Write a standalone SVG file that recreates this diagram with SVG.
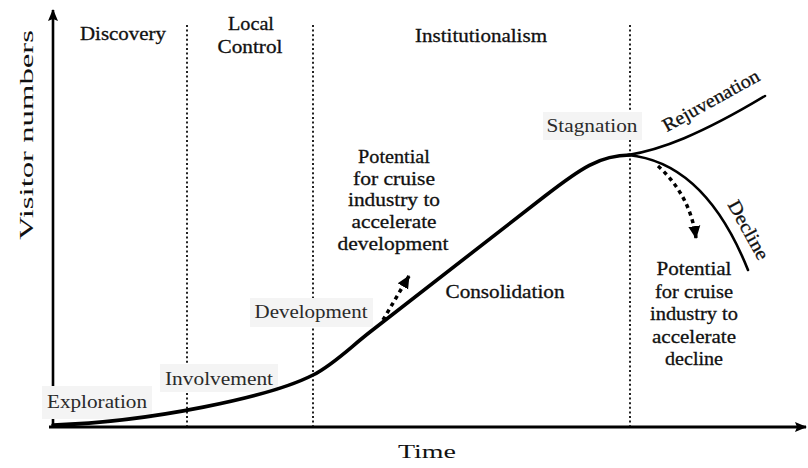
<svg xmlns="http://www.w3.org/2000/svg" width="808" height="468" viewBox="0 0 808 468" font-family="'Liberation Serif', 'Times New Roman', serif">
<style>
text{font-family:'Liberation Serif','Times New Roman',serif;font-size:19px;fill:#111}
.hv{stroke:#111;stroke-width:0.3}
.lt{fill:#2a2a2a}
.box{fill:#f4f4f4}
.div{stroke:#222;stroke-width:2;stroke-dasharray:2 2.6;fill:none}
.axis{stroke:#000;fill:none}
.crv{stroke:#000;fill:none;stroke-linecap:round}
.dash{stroke:#000;stroke-width:3.5;stroke-dasharray:4 4;fill:none}
</style>
<defs>
<marker id="ah" markerUnits="userSpaceOnUse" markerWidth="14" markerHeight="14" refX="12" refY="6" orient="auto" viewBox="0 0 14 12">
<path d="M0,0 L13,6 L0,12 Z" fill="#000"/>
</marker>
<marker id="axh" markerUnits="userSpaceOnUse" markerWidth="12" markerHeight="10" refX="11" refY="5" orient="auto" viewBox="0 0 12 10">
<path d="M0,0 L12,5 L0,10 L2,5 Z" fill="#000"/>
</marker>
</defs>
<rect width="808" height="468" fill="#fff"/>

<g id="phase-dividers">
<line class="div" x1="187" y1="25" x2="187" y2="426"/>
<line class="div" x1="313" y1="25" x2="313" y2="426"/>
<line class="div" x1="630" y1="25" x2="630" y2="426"/>
</g>

<g id="axes">
<line class="axis" x1="53" y1="428" x2="53" y2="10" stroke-width="2.6" marker-end="url(#axh)"/>
<line class="axis" x1="49" y1="427" x2="806" y2="427" stroke-width="3" marker-end="url(#axh)"/>
</g>

<g id="label-boxes">
<rect class="box" x="42" y="386" width="110" height="33"/>
<rect class="box" x="160" y="364" width="118" height="28"/>
<rect class="box" x="250" y="298" width="123" height="29"/>
<rect class="box" x="543" y="112" width="99" height="28"/>
</g>

<g id="connectors">
<path id="main-curve" class="crv" stroke-width="3.6" d="M53,425 C150,422 270,397 313,375 C333,365 350,347.5 370,332 L545,196 C580,168.8 600,155 630,155"/>
<path id="rejuvenation-curve" class="crv" stroke-width="2.6" d="M628,155 C660,150 700,135 765,96"/>
<path id="decline-curve" class="crv" stroke-width="2.6" d="M628,155 C680,160 720,200 748,270"/>
<path id="arrow-development" class="dash" d="M383,320 L409,276" marker-end="url(#ah)"/>
<path id="arrow-decline" class="dash" d="M658,166 Q690,195 696,238" marker-end="url(#ah)"/>
</g>

<g id="phase-labels">
<g id="discovery"><text class="hv" x="123" y="40" text-anchor="middle" textLength="86" lengthAdjust="spacingAndGlyphs">Discovery</text></g>
<g id="local-control">
<text class="hv" x="251" y="30" text-anchor="middle" textLength="46" lengthAdjust="spacingAndGlyphs">Local</text>
<text class="hv" x="250" y="53" text-anchor="middle" textLength="65" lengthAdjust="spacingAndGlyphs">Control</text>
</g>
<g id="institutionalism"><text class="hv" x="481" y="42" text-anchor="middle" textLength="132" lengthAdjust="spacingAndGlyphs">Institutionalism</text></g>
</g>

<g id="stage-labels">
<g id="exploration"><text class="lt" x="97" y="408" text-anchor="middle" textLength="100" lengthAdjust="spacingAndGlyphs">Exploration</text></g>
<g id="involvement"><text class="lt" x="219" y="385" text-anchor="middle" textLength="108" lengthAdjust="spacingAndGlyphs">Involvement</text></g>
<g id="development"><text class="lt" x="311" y="318" text-anchor="middle" textLength="113" lengthAdjust="spacingAndGlyphs">Development</text></g>
<g id="consolidation"><text class="hv" x="505" y="298" text-anchor="middle" textLength="119" lengthAdjust="spacingAndGlyphs">Consolidation</text></g>
<g id="stagnation"><text class="lt" x="592" y="132" text-anchor="middle" textLength="91" lengthAdjust="spacingAndGlyphs">Stagnation</text></g>
<g id="rejuvenation"><text class="hv" transform="translate(714,106) rotate(-29)" text-anchor="middle" textLength="108" lengthAdjust="spacingAndGlyphs">Rejuvenation</text></g>
<g id="decline"><text class="hv" transform="translate(743,233) rotate(61)" text-anchor="middle" textLength="65" lengthAdjust="spacingAndGlyphs">Decline</text></g>
</g>

<g id="note-development">
<text class="hv" x="394" y="163" text-anchor="middle" textLength="72" lengthAdjust="spacingAndGlyphs">Potential</text>
<text class="hv" x="394" y="185" text-anchor="middle" textLength="82" lengthAdjust="spacingAndGlyphs">for cruise</text>
<text class="hv" x="394" y="206" text-anchor="middle" textLength="92" lengthAdjust="spacingAndGlyphs">industry to</text>
<text class="hv" x="394" y="228" text-anchor="middle" textLength="85" lengthAdjust="spacingAndGlyphs">accelerate</text>
<text class="hv" x="393" y="250" text-anchor="middle" textLength="111" lengthAdjust="spacingAndGlyphs">development</text>
</g>

<g id="note-decline">
<text class="hv" x="694" y="275" text-anchor="middle" textLength="75" lengthAdjust="spacingAndGlyphs">Potential</text>
<text class="hv" x="694" y="298" text-anchor="middle" textLength="78" lengthAdjust="spacingAndGlyphs">for cruise</text>
<text class="hv" x="694" y="320" text-anchor="middle" textLength="88" lengthAdjust="spacingAndGlyphs">industry to</text>
<text class="hv" x="694" y="343" text-anchor="middle" textLength="84" lengthAdjust="spacingAndGlyphs">accelerate</text>
<text class="hv" x="694" y="365" text-anchor="middle" textLength="58" lengthAdjust="spacingAndGlyphs">decline</text>
</g>

<g id="axis-labels">
<text x="427" y="458" text-anchor="middle" font-size="27" textLength="58" lengthAdjust="spacingAndGlyphs">Time</text>
<text transform="translate(33,135) rotate(-90)" text-anchor="middle" font-size="31" textLength="210" lengthAdjust="spacingAndGlyphs">Visitor numbers</text>
</g>
</svg>
